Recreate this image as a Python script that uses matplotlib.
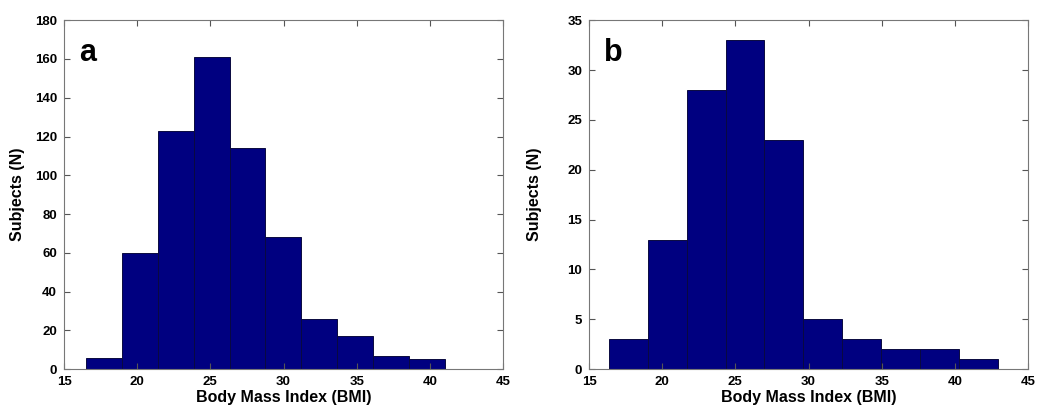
import numpy as np
import matplotlib.pyplot as plt

plt.rcParams['font.family'] = ['Liberation Sans', 'DejaVu Sans']
plt.rcParams['font.weight'] = 'bold'

# panel a: histogram bin edges and counts
edges_a = np.linspace(16.5, 41.03, 11)
counts_a = [6, 60, 123, 161, 114, 68, 26, 17, 7, 5]

# panel b
edges_b = np.linspace(16.37, 42.92, 11)
counts_b = [3, 13, 28, 33, 23, 5, 3, 2, 2, 1]

panels = [
    ('a', edges_a, counts_a, (0, 180), np.arange(0, 181, 20), 7),
    ('b', edges_b, counts_b, (0, 35), np.arange(0, 36, 5), 18),
]

fig = plt.figure(figsize=(10.5, 4.2), dpi=100)
lefts = [0.061, 0.561]

for (letter, edges, counts, ylim, yticks, ypad), left in zip(panels, lefts):
    ax = fig.add_axes([left, 0.121, 0.418, 0.831])
    ax.bar(edges[:-1], counts, width=np.diff(edges), align='edge',
           color='#000080', edgecolor='#0a0a40', linewidth=0.7)
    ax.set_xlim(15, 45)
    ax.set_ylim(*ylim)
    ax.set_xticks(np.arange(15, 46, 5))
    ax.set_yticks(yticks)
    ax.tick_params(direction='in', top=True, right=True, length=4,
                   labelsize=9.5, color='#555555', pad=5)
    for s in ax.spines.values():
        s.set_color('#777777')
        s.set_linewidth(0.8)
    ax.set_xlabel('Body Mass Index (BMI)', fontsize=11.5, fontweight='bold', labelpad=1)
    ax.set_ylabel('Subjects (N)', fontsize=11.5, fontweight='bold', labelpad=ypad)
    ax.text(0.035, 0.95, letter, transform=ax.transAxes, fontsize=22,
            fontweight='bold', ha='left', va='top')

fig.savefig('out.png', dpi=100)
